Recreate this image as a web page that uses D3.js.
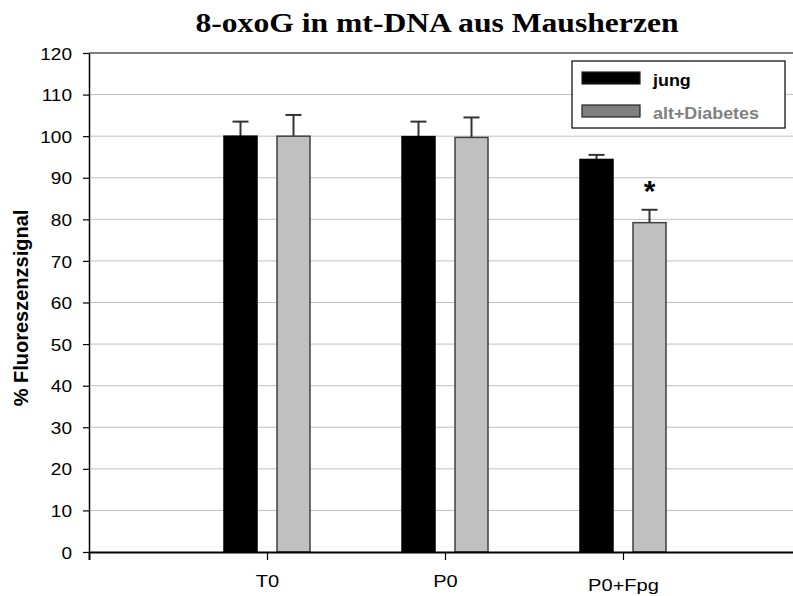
<!DOCTYPE html>
<html><head><meta charset="utf-8">
<script src="https://cdn.jsdelivr.net/npm/d3@7"></script>
<style>body{margin:0;background:#fff}svg{display:block}</style>
</head><body>
<script>
const categories = ["T0", "P0", "P0+Fpg"];
const seriesNames = ["jung", "alt+Diabetes"];
const jungValues = [100, 99.9, 94.4];
const jungErrors = [3.5, 3.6, 1.1];
const altValues = [100, 99.7, 79.2];
const altErrors = [5.1, 4.8, 3.1];
const yTicks = [0,10,20,30,40,50,60,70,80,90,100,110,120];
const significant = [false, false, true];

const W = 793, H = 596;
const SANS = "Liberation Sans, Arial, sans-serif";
const svg = d3.select("body").append("svg").attr("width", W).attr("height", H);

const x = d3.scalePoint().domain(categories).range([89, 801]).padding(1);
const y = d3.scaleLinear().domain([0, 120]).range([552, 53]);
const sub = d3.scaleOrdinal().domain(seriesNames).range([-26.5, 26.5]);
const barW = 33;
const fill = {"jung": "#000000", "alt+Diabetes": "#c0c0c0"};

// stretched text helper
function stext(parent, tx, ty, sx, str) {
  return parent.append("text").attr("transform", `translate(${tx},${ty}) scale(${sx},1)`).text(str);
}

// gridlines
svg.append("g").selectAll("line").data(yTicks.filter(t => t > 0 && t < 120)).join("line")
  .attr("x1", 89).attr("x2", W).attr("y1", d => y(d)).attr("y2", d => y(d))
  .attr("stroke", "#c0c0c0").attr("stroke-width", 1);

// top border
svg.append("line").attr("x1", 89).attr("x2", W).attr("y1", y(120)).attr("y2", y(120))
  .attr("stroke", "#000").attr("stroke-width", 1.2);

const data = [];
categories.forEach((c, i) => {
  data.push({c, s: "jung", v: jungValues[i], e: jungErrors[i]});
  data.push({c, s: "alt+Diabetes", v: altValues[i], e: altErrors[i]});
});

// error bars
const eb = svg.append("g").attr("stroke", "#333").attr("stroke-width", 2);
data.forEach(d => {
  const cx = x(d.c) + sub(d.s);
  eb.append("line").attr("x1", cx).attr("x2", cx).attr("y1", y(d.v)).attr("y2", y(d.v + d.e));
  eb.append("line").attr("x1", cx - 8).attr("x2", cx + 8).attr("y1", y(d.v + d.e)).attr("y2", y(d.v + d.e));
});

// bars
svg.append("g").selectAll("rect").data(data).join("rect")
  .attr("x", d => x(d.c) + sub(d.s) - barW / 2)
  .attr("width", barW)
  .attr("y", d => y(d.v))
  .attr("height", d => y(0) - y(d.v))
  .attr("fill", d => fill[d.s])
  .attr("stroke", d => d.s === "jung" ? "#000" : "#404040")
  .attr("stroke-width", 1.5);

// significance star
categories.forEach((c, i) => {
  if (significant[i]) {
    svg.append("text").attr("x", x(c) + sub("alt+Diabetes")).attr("y", y(altValues[i] + altErrors[i]) - 9)
      .attr("text-anchor", "middle").attr("font-family", SANS)
      .attr("font-weight", "bold").attr("font-size", 30).text("*");
  }
});

// y axis
const yAxis = svg.append("g").attr("transform", "translate(89,0)")
  .call(d3.axisLeft(y).tickValues(yTicks).tickSize(6).tickSizeOuter(0));
yAxis.select(".domain").attr("stroke", "#000").attr("stroke-width", 1.5);
yAxis.selectAll(".tick line").attr("stroke", "#000").attr("stroke-width", 1.2);
yAxis.selectAll(".tick text").remove();
yAxis.selectAll(".tick").each(function(d) {
  stext(d3.select(this), -17, 0, 1.12, d)
    .attr("text-anchor", "end").attr("dy", "0.36em")
    .attr("font-family", SANS).attr("font-size", 17).attr("fill", "#000");
});

// x axis
const xAxis = svg.append("g").attr("transform", "translate(0,552)")
  .call(d3.axisBottom(x).tickSize(8).tickSizeOuter(8));
xAxis.select(".domain").attr("stroke", "#000").attr("stroke-width", 2);
xAxis.selectAll(".tick line").attr("stroke", "#000").attr("stroke-width", 1.2);
xAxis.selectAll(".tick text").remove();
xAxis.selectAll(".tick").each(function(d, i) {
  stext(d3.select(this), 0, i === 2 ? 39 : 35, 1.18, d)
    .attr("text-anchor", "middle")
    .attr("font-family", SANS).attr("font-size", 17).attr("fill", "#000");
});

// y label
svg.append("text").attr("transform", "translate(28,308) rotate(-90)")
  .attr("text-anchor", "middle").attr("font-family", SANS)
  .attr("font-weight", "bold").attr("font-size", 20).text("% Fluoreszenzsignal");

// title
stext(svg, 437, 32, 1.13, "8-oxoG in mt-DNA aus Mausherzen")
  .attr("text-anchor", "middle")
  .attr("font-family", "Liberation Serif, Times New Roman, serif")
  .attr("font-weight", "bold").attr("font-size", 28);

// legend
const lg = svg.append("g");
lg.append("rect").attr("x", 572).attr("y", 61).attr("width", 213).attr("height", 67)
  .attr("fill", "#fff").attr("stroke", "#000").attr("stroke-width", 1.2);
const legFill = {"jung": "#000", "alt+Diabetes": "#808080"};
const legText = {"jung": "#000", "alt+Diabetes": "#808080"};
seriesNames.forEach((s, i) => {
  const yy = 72 + i * 33;
  lg.append("rect").attr("x", 582).attr("y", yy).attr("width", 58).attr("height", 12)
    .attr("fill", legFill[s]).attr("stroke", "#222").attr("stroke-width", 1.2);
  stext(lg, 653, yy + 13.5, 1.12, s)
    .attr("font-family", SANS).attr("font-weight", "bold").attr("font-size", 16).attr("fill", legText[s]);
});
</script>
</body></html>
